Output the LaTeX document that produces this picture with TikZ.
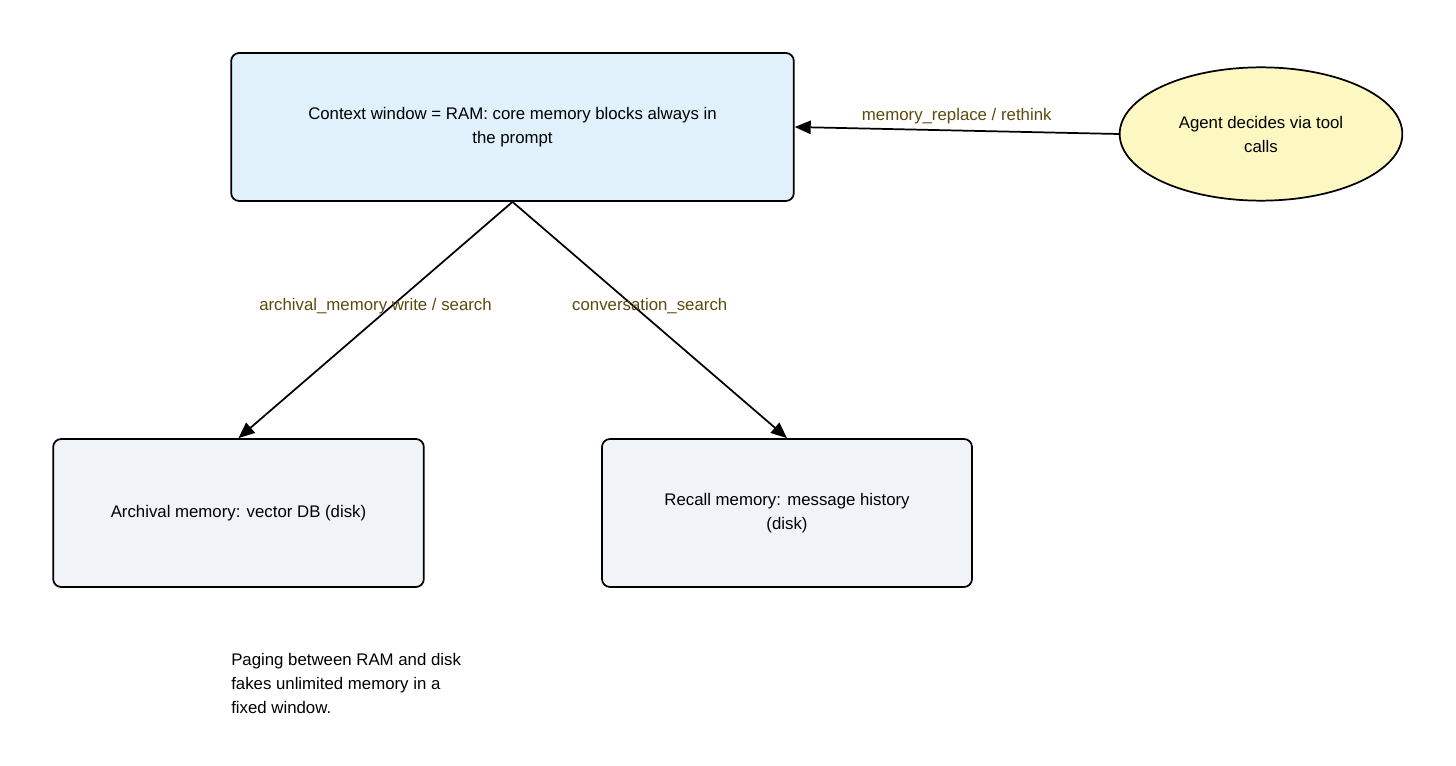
\documentclass[tikz,border=0pt]{standalone}
\usepackage{fontspec}
\setmainfont{Liberation Sans}
\usepackage{xcolor}
\usetikzlibrary{arrows.meta,shapes.geometric}
\definecolor{ctxblue}{HTML}{E0F1FC}
\definecolor{diskgray}{HTML}{F0F4F9}
\definecolor{agentyellow}{HTML}{FDF8C2}
\definecolor{labelbrown}{HTML}{5C4A0C}
\begin{document}
\begin{tikzpicture}[x=0.75pt, y=-0.75pt,
  membox/.style={rectangle, rounded corners=6pt, draw, line width=1.3pt, minimum height=111pt, align=center, font=\fontsize{12.6}{18}\selectfont},
  agent/.style={ellipse, draw, line width=1.3pt, fill=agentyellow, minimum width=212pt, minimum height=100pt, align=center, font=\fontsize{12.6}{18}\selectfont},
  flow/.style={-{Triangle[length=12pt,width=10pt]}, line width=1.3pt},
  flowlabel/.style={text=labelbrown, font=\fontsize{12.6}{14}\selectfont, midway, yshift=10.5pt}]
\useasboundingbox (0,0) rectangle (1456,766);
\node (ctx) [membox, fill=ctxblue, minimum width=422pt] at (512.5,127) {Context window = RAM: core memory blocks always in\\the prompt};
\node (agent) [agent] at (1261,134) {Agent decides via tool\\calls};
\node (archival) [membox, fill=diskgray, minimum width=278pt] at (238.5,513) {Archival memory: vector DB (disk)};
\node (recall) [membox, fill=diskgray, minimum width=277.5pt] at (787,513) {Recall memory: message history\\(disk)};
\node (note) [anchor=north west, align=left, inner sep=0pt, font=\fontsize{12.6}{18}\selectfont] at (231,653) {Paging between RAM and disk\\fakes unlimited memory in a\\fixed window.};
\draw[flow] (ctx.south) -- node[flowlabel] {archival\_memory write / search} (archival.north);
\draw[flow] (ctx.south) -- node[flowlabel] {conversation\_search} (recall.north);
\draw[flow] (agent.west) -- node[flowlabel] {memory\_replace / rethink} (ctx.east);
\end{tikzpicture}
\end{document}
